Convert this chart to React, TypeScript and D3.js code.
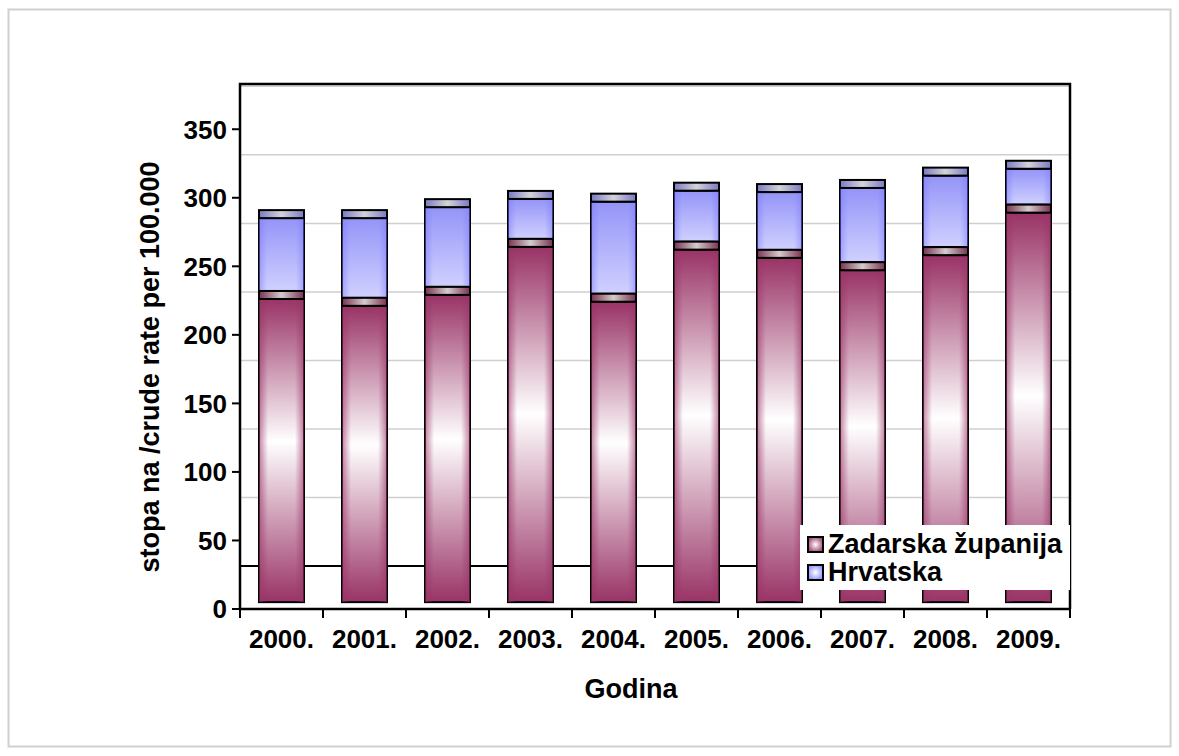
import * as d3 from "d3";

// Chart data
const years = ["2000.", "2001.", "2002.", "2003.", "2004.", "2005.", "2006.", "2007.", "2008.", "2009."];
const zadarska = [232, 227, 235, 270, 230, 268, 262, 253, 264, 295];
const hrvatska = [291, 291, 299, 305, 303, 311, 310, 313, 322, 327];
const yTicks = [0, 50, 100, 150, 200, 250, 300, 350];
const seriesNames = ["Zadarska županija", "Hrvatska"];

// Layout
const W = 1179;
const H = 756;
const plot = { left: 240, right: 1070, top: 84, bottom: 609 };
const yMax = 383;
const barBase = 5; // bars sit slightly above the axis in the original
const gridOffset = 31.3; // gridlines are shifted from the tick values
const capH = 8;
const font = "'Liberation Sans', Arial, sans-serif";

export default function App() {
    const x = d3.scaleBand<string>()
        .domain(years)
        .range([plot.left, plot.right])
        .paddingInner(0.458)
        .paddingOuter(0.229);

    const y = d3.scaleLinear()
        .domain([0, yMax])
        .range([plot.bottom, plot.top]);

    const gridValues = yTicks.map(t => t + gridOffset).filter(v => v < yMax);
    const bw = x.bandwidth();

    return (
        <svg width={W} height={H} style={{ position: "absolute", left: 0, top: 0, background: "#fff" }}
            fontFamily={font} fontWeight="bold">
            <defs>
                <linearGradient id="zBody" x1="0" y1="0" x2="0" y2="1">
                    <stop offset="0" stopColor="#993366" />
                    <stop offset="0.47" stopColor="#ffffff" />
                    <stop offset="1" stopColor="#993366" />
                </linearGradient>
                <linearGradient id="zSide" x1="0" y1="0" x2="1" y2="0">
                    <stop offset="0" stopColor="#993366" stopOpacity="0.6" />
                    <stop offset="0.2" stopColor="#993366" stopOpacity="0" />
                    <stop offset="0.8" stopColor="#993366" stopOpacity="0" />
                    <stop offset="1" stopColor="#993366" stopOpacity="0.6" />
                </linearGradient>
                <linearGradient id="hBody" x1="0" y1="0" x2="0" y2="1">
                    <stop offset="0" stopColor="#9494f8" />
                    <stop offset="1" stopColor="#d0d0ff" />
                </linearGradient>
                <linearGradient id="hSide" x1="0" y1="0" x2="1" y2="0">
                    <stop offset="0" stopColor="#7a7aff" stopOpacity="0.5" />
                    <stop offset="0.18" stopColor="#7a7aff" stopOpacity="0" />
                    <stop offset="0.82" stopColor="#7a7aff" stopOpacity="0" />
                    <stop offset="1" stopColor="#7a7aff" stopOpacity="0.5" />
                </linearGradient>
                <linearGradient id="zCap" x1="0" y1="0" x2="1" y2="0">
                    <stop offset="0" stopColor="#7a3352" />
                    <stop offset="0.5" stopColor="#d4cccc" />
                    <stop offset="1" stopColor="#7a3352" />
                </linearGradient>
                <linearGradient id="hCap" x1="0" y1="0" x2="1" y2="0">
                    <stop offset="0" stopColor="#7a7ac4" />
                    <stop offset="0.5" stopColor="#d4d4d8" />
                    <stop offset="1" stopColor="#7a7ac4" />
                </linearGradient>
                <radialGradient id="zLeg">
                    <stop offset="0" stopColor="#ffffff" />
                    <stop offset="1" stopColor="#a8557c" />
                </radialGradient>
                <radialGradient id="hLeg">
                    <stop offset="0" stopColor="#ffffff" />
                    <stop offset="1" stopColor="#9999ff" />
                </radialGradient>
            </defs>

            {/* outer frame */}
            <rect x={8.5} y={9.5} width={1162} height={737} fill="none" stroke="#d0d0d0" strokeWidth={2} />

            {/* gridlines */}
            {gridValues.map((v, i) => (
                <line key={v} x1={plot.left} x2={plot.right} y1={y(v)} y2={y(v)}
                    stroke={i === 0 ? "#000" : "#cfcfcf"} strokeWidth={i === 0 ? 2 : 1.5} />
            ))}

            {/* bars */}
            {years.map((yr, i) => {
                const x0 = x(yr) as number;
                const zTop = y(zadarska[i]);
                const hTop = y(hrvatska[i]);
                const base = y(barBase);
                return (
                    <g key={yr} stroke="#000" strokeWidth={2}>
                        <rect x={x0} y={hTop + capH} width={bw} height={zTop - hTop - capH} fill="url(#hBody)" />
                        <rect x={x0} y={hTop + capH} width={bw} height={zTop - hTop - capH} fill="url(#hSide)" stroke="none" />
                        <rect x={x0} y={hTop} width={bw} height={capH} fill="url(#hCap)" />
                        <rect x={x0} y={zTop + capH} width={bw} height={base - zTop - capH} fill="url(#zBody)" />
                        <rect x={x0} y={zTop + capH} width={bw} height={base - zTop - capH} fill="url(#zSide)" stroke="none" />
                        <rect x={x0} y={zTop} width={bw} height={capH} fill="url(#zCap)" />
                    </g>
                );
            })}

            {/* plot frame */}
            <path d={`M${plot.left},${plot.bottom}V${plot.top}H${plot.right}V${plot.bottom}`}
                fill="none" stroke="#000" strokeWidth={2.5} />
            <line x1={plot.left - 1} x2={plot.right + 1} y1={plot.bottom} y2={plot.bottom} stroke="#000" strokeWidth={2.5} />

            {/* y axis ticks */}
            {yTicks.map(t => (
                <g key={t}>
                    <line x1={plot.left - 8} x2={plot.left} y1={y(t)} y2={y(t)} stroke="#000" strokeWidth={2} />
                    <text x={plot.left - 13} y={y(t)} dy="0.36em" textAnchor="end" fontSize={26}>{t}</text>
                </g>
            ))}

            {/* x axis ticks */}
            {years.map((yr, i) => {
                const b0 = plot.left + i * x.step();
                return (
                    <g key={yr}>
                        <line x1={b0} x2={b0} y1={plot.bottom} y2={plot.bottom + 9} stroke="#000" strokeWidth={2} />
                        <text x={(x(yr) as number) + bw / 2} y={648} textAnchor="middle" fontSize={26}>{yr}</text>
                    </g>
                );
            })}
            <line x1={plot.right} x2={plot.right} y1={plot.bottom} y2={plot.bottom + 9} stroke="#000" strokeWidth={2} />

            {/* axis titles */}
            <text transform="translate(159,367) rotate(-90)"
                textAnchor="middle" fontSize={27}>stopa na /crude rate per 100.000</text>
            <text x={631} y={698} textAnchor="middle" fontSize={27}>Godina</text>

            {/* legend */}
            <rect x={800} y={525} width={270} height={65} fill="#fff" />
            {seriesNames.map((name, i) => (
                <g key={name} transform={`translate(808,${537 + i * 28})`}>
                    <rect x={0} y={0} width={15} height={15} fill={i === 0 ? "url(#zLeg)" : "url(#hLeg)"}
                        stroke="#000" strokeWidth={2} />
                    <text x={20} y={16} fontSize={27}>{name}</text>
                </g>
            ))}
        </svg>
    );
}
